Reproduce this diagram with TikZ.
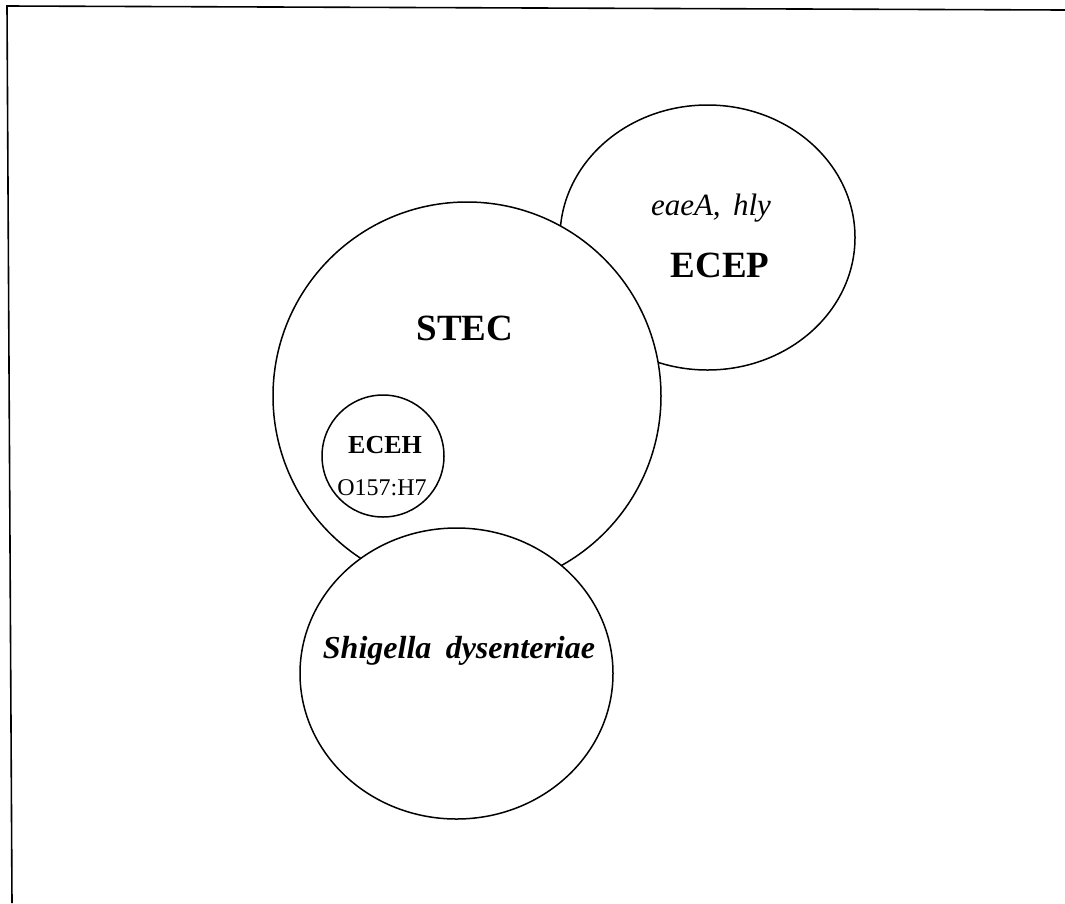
\documentclass[tikz,border=0pt]{standalone}
\usepackage{fontspec}
\setmainfont{Liberation Serif}
\usetikzlibrary{shapes.geometric}
\begin{document}
\begin{tikzpicture}[x=1pt,y=-1pt,
  set/.style={draw=black,fill=white,line width=1.5pt,ellipse,inner sep=0pt},
  lbl/.style={anchor=base,inner sep=0pt}]
\useasboundingbox (0,0) rectangle (1065,903);
% frame edges
\coordinate (fbl) at (12,903);
\coordinate (ftl) at (7,6);
\coordinate (ftr) at (1065,10);
\draw[line width=1.6pt] (fbl) -- (ftl) -- (ftr);
% sets, back to front
\node[set,minimum width=295pt,minimum height=265pt] (ecep) at (707.5,237.5) {};
\node[set,minimum width=388pt,minimum height=388pt] (stec) at (467,396) {};
\node[set,minimum width=313pt,minimum height=291pt] (shig) at (456.5,673.5) {};
\node[set,minimum width=122pt,minimum height=122pt] (eceh) at (383,456) {};
% labels
\node[lbl,font=\fontsize{31}{34}\selectfont\itshape] (genes) at (711,215) {eaeA,\hspace{0.4em}hly};
\node[lbl,font=\fontsize{37}{40}\selectfont\bfseries] (tecep) at (720,277) {ECEP};
\node[lbl,font=\fontsize{37}{40}\selectfont\bfseries] (tstec) at (465,340) {STEC};
\node[lbl,font=\fontsize{26}{28}\selectfont\bfseries] (teceh) at (385,453) {ECEH};
\node[lbl,font=\fontsize{24}{26}\selectfont] (sero) at (382,495) {O157:H7};
\node[lbl,font=\fontsize{32}{35}\selectfont\bfseries\itshape] (tshig) at (459,658) {Shigella\hspace{0.45em}dysenteriae};
\end{tikzpicture}
\end{document}
